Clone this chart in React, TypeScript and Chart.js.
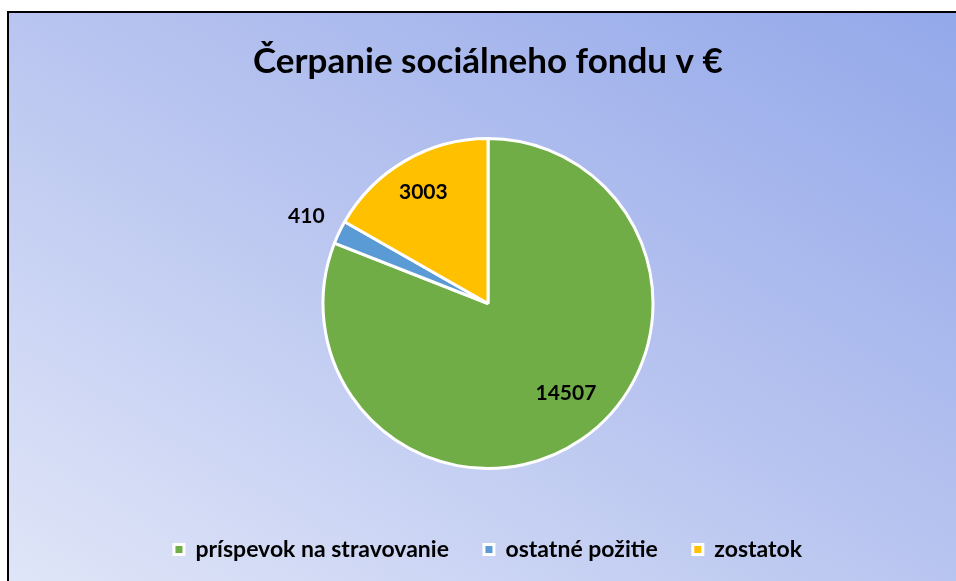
import React, { useEffect, useRef } from "react";
import { Chart, registerables } from "chart.js";
Chart.register(...registerables);

const categories = ["príspevok na stravovanie", "ostatné požitie", "zostatok"];
const values = [14507, 410, 3003];
const colors = ["#70AD47", "#5B9BD5", "#FFC000"];
const titleText = "Čerpanie sociálneho fondu v €";
// label placement: fraction of radius, fraction along the slice's angle
const labelRadius = [0.72, 1.22, 0.78];
const labelAngleFrac = [0.477, 0.5, 0.5];

const FONT = "Lato";

const labelPlugin = {
  id: "sliceLabels",
  afterDatasetsDraw(chart: any) {
    const ctx = chart.ctx;
    const meta = chart.getDatasetMeta(0);
    ctx.save();
    ctx.font = `bold 21px ${FONT}`;
    ctx.fillStyle = "#000";
    ctx.textAlign = "center";
    ctx.textBaseline = "middle";
    meta.data.forEach((arc: any, i: number) => {
      const p = arc.getProps(["x", "y", "startAngle", "endAngle", "outerRadius"], true);
      const a = p.startAngle + (p.endAngle - p.startAngle) * labelAngleFrac[i];
      const r = p.outerRadius * labelRadius[i];
      ctx.fillText(String(values[i]), p.x + Math.cos(a) * r, p.y + Math.sin(a) * r);
    });
    ctx.restore();
  },
};

export default function App() {
  const ref = useRef<HTMLCanvasElement>(null);
  useEffect(() => {
    document.body.style.margin = "0";
    const chart = new Chart(ref.current as HTMLCanvasElement, {
      type: "pie",
      data: {
        labels: categories,
        datasets: [
          {
            data: values,
            backgroundColor: colors,
            borderColor: "#ffffff",
            borderWidth: 3,
            radius: 165,
          } as any,
        ],
      },
      options: {
        animation: false,
        responsive: false,
        layout: { padding: { left: 20, right: 0, top: 0, bottom: 10 } },
        plugins: {
          tooltip: { enabled: false },
          title: {
            display: true,
            text: titleText,
            color: "#000",
            font: { family: FONT, size: 35, weight: "bold", lineHeight: 1 },
            padding: { top: 44, bottom: 25 },
          },
          legend: {
            position: "bottom",
            labels: {
              boxWidth: 10,
              boxHeight: 10,
              padding: 35,
              color: "#000",
              font: { family: FONT, size: 23, weight: "bold" },
            },
          },
        },
      },
      plugins: [labelPlugin],
    });
    return () => chart.destroy();
  }, []);
  return (
    <div style={{ position: "relative", width: 956, height: 581, overflow: "hidden" }}>
      <div
        style={{
          position: "absolute",
          left: 7,
          top: 11,
          right: -10,
          bottom: -10,
          borderLeft: "2px solid #000",
          borderTop: "2px solid #000",
          background: "linear-gradient(to top right, #E0E6F8 0%, #B9C5F0 50%, #93A8EA 100%)",
        }}
      />
      <canvas ref={ref} width={956} height={581} style={{ position: "absolute", left: 0, top: 0 }} />
    </div>
  );
}
